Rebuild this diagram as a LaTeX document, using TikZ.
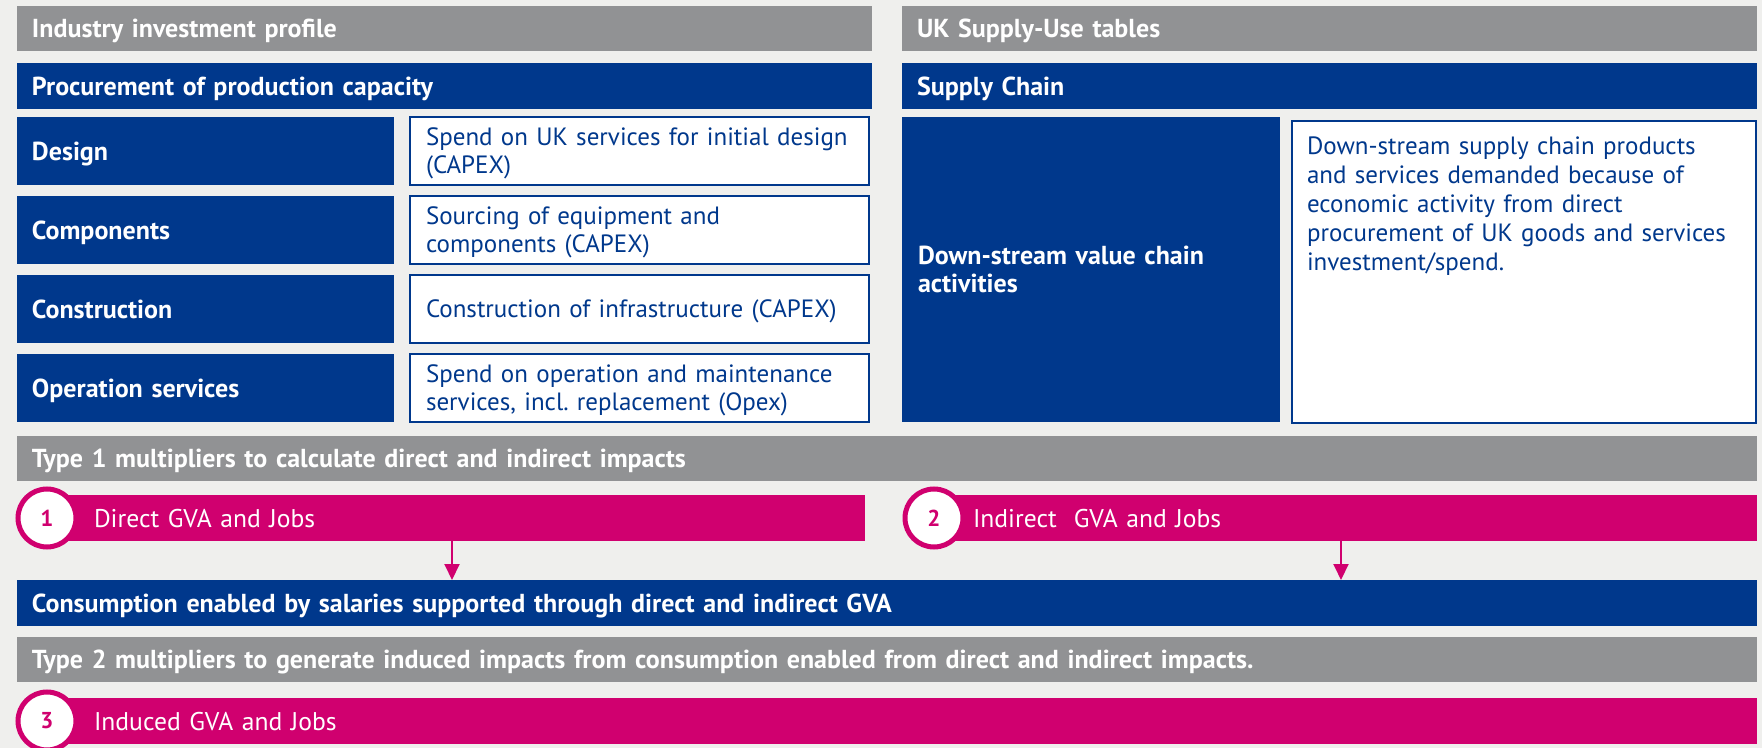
\documentclass[tikz,border=0pt]{standalone}
\usepackage{fontspec}
\setmainfont{PT Sans}
\usepackage{tikz}
\usetikzlibrary{positioning,arrows.meta}

\definecolor{paper}{RGB}{239,239,237}
\definecolor{bargrey}{RGB}{145,146,148}
\definecolor{navy}{RGB}{0,56,140}
\definecolor{cerise}{RGB}{208,0,111}

\begin{document}
\begin{tikzpicture}[x=1pt,y=1pt,every node/.style={inner sep=0pt,outer sep=0pt}]
  \tikzstyle{greybar}=[rectangle,fill=bargrey,text=white,anchor=north west,
                       font=\bfseries\fontsize{13}{14}\selectfont,
                       minimum height=22.5pt,align=left,inner xsep=7.5pt,
                       text height=9.1pt,text depth=0pt]
  \tikzstyle{bluebar}=[greybar,fill=navy,minimum height=23pt]
  \tikzstyle{cell}=[bluebar,minimum height=34pt]
  \tikzstyle{note}=[rectangle,draw=navy,line width=1pt,fill=white,text=navy,
                    anchor=north west,font=\fontsize{12.5}{14}\selectfont,
                    minimum height=34pt,align=left,inner xsep=8pt,
                    text height=8.8pt,text depth=0pt]
  \tikzstyle{twoline}=[text depth=14pt]
  \tikzstyle{pinkbar}=[rectangle,fill=cerise,text=white,anchor=north west,
                       font=\fontsize{12.8}{14}\selectfont,
                       minimum height=23pt,align=left,
                       text height=9pt,text depth=0pt]
  \tikzstyle{num}=[circle,draw=cerise,line width=2.5pt,fill=white,text=cerise,
                   font=\bfseries\fontsize{11.5}{13}\selectfont,minimum size=29pt]
  \tikzstyle{flow}=[draw=cerise,line width=1pt,-{Triangle[width=7.5pt,length=8pt]}]

  \useasboundingbox (0,0) rectangle (881,-374);
  \fill[paper] (0,0) rectangle (881,-374);

  % headers
  \node[greybar,text width=412.5pt] (profile) at (8.5,-3) {Industry investment profile};
  \node[greybar,text width=412.5pt] (sut) at (451,-3) {UK Supply-Use tables};
  \node[bluebar,text width=412.5pt] (procure) [below right=6pt and 0pt of profile.south west] {Procurement of production capacity};
  \node[bluebar,text width=412.5pt] (chain) [below right=6pt and 0pt of sut.south west] {Supply Chain};

  % procurement rows
  \node[cell,text width=173.5pt] (design) [below right=4pt and 0pt of procure.south west] {Design};
  \node[cell,text width=173.5pt] (parts)  [below right=5.5pt and 0pt of design.south west] {Components};
  \node[cell,text width=173.5pt] (build)  [below right=5.5pt and 0pt of parts.south west] {Construction};
  \node[cell,text width=173.5pt] (ops)    [below right=5.5pt and 0pt of build.south west] {Operation services};

  \node[note,twoline,text width=213.5pt] (designN) [below right=0pt and 8pt of design.north east] {Spend on UK services for initial design\\(CAPEX)};
  \node[note,twoline,text width=213.5pt] (partsN)  [below right=0pt and 8pt of parts.north east] {Sourcing of equipment and\\components (CAPEX)};
  \node[note,text width=213.5pt] (buildN)  [below right=0pt and 8pt of build.north east] {Construction of infrastructure (CAPEX)};
  \node[note,twoline,text width=213.5pt] (opsN)    [below right=0pt and 8pt of ops.north east] {Spend on operation and maintenance\\services, incl.\ replacement (Opex)};

  % supply chain
  \node[cell,twoline,text width=173pt,inner xsep=8pt,minimum height=152.5pt] (downstream)
       [below right=4pt and 0pt of chain.south west] {Down-stream value chain\\activities};
  \node[note,text width=217pt,inner xsep=7.5pt,inner ysep=7pt,text height=10pt,text depth=127pt,
        font=\fontsize{12.5}{14.5}\selectfont] (demand) [below right=2pt and 6pt of downstream.north east]
       {Down-stream supply chain products\\and services demanded because of\\economic activity from direct\\procurement of UK goods and services\\investment/spend.};

  % impacts
  \node[greybar,text width=855pt] (type1) [below right=7pt and 0pt of ops.south west] {Type 1 multipliers to calculate direct and indirect impacts};
  \node[pinkbar,text width=358pt,inner xsep=27.5pt] (dgva) [below right=7pt and 11pt of type1.south west] {Direct GVA and Jobs};
  \node[pinkbar,text width=368pt,inner xsep=24pt] (igva) [below right=0pt and 30pt of dgva.north east] {Indirect\ \ GVA and Jobs};
  \node[num] (n1) at ([xshift=4pt]dgva.west) {1};
  \node[num] (n2) at ([xshift=4.5pt]igva.west) {2};

  \node[bluebar,text width=855pt] (cons) [below right=49.5pt and 0pt of type1.south west] {Consumption enabled by salaries supported through direct and indirect GVA};
  \node[greybar,text width=855pt] (type2) [below right=5.5pt and 0pt of cons.south west] {Type 2 multipliers to generate induced impacts from consumption enabled from direct and indirect impacts.};
  \node[pinkbar,text width=804pt,inner xsep=27.5pt] (ngva) [below right=8pt and 11pt of type2.south west] {Induced GVA and Jobs};
  \node[num] (n3) at ([xshift=4pt]ngva.west) {3};

  \draw[flow] (dgva.south) -- (dgva.south |- cons.north);
  \draw[flow] (igva.south) -- (igva.south |- cons.north);
\end{tikzpicture}
\end{document}
